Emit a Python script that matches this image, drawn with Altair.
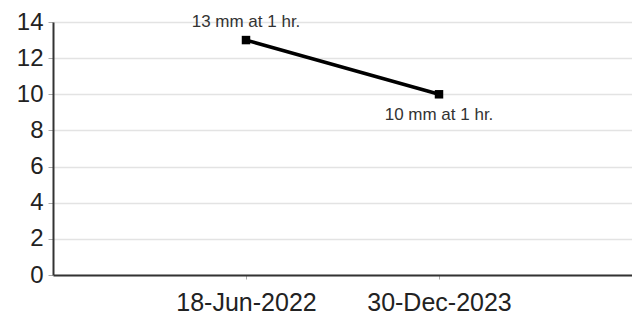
import altair as alt
import pandas as pd

dates = ["18-Jun-2022", "30-Dec-2023"]
values = [13, 10]
labels = ["13 mm at 1 hr.", "10 mm at 1 hr."]

df = pd.DataFrame({"date": dates, "value": values, "label": labels})

x = alt.X("date:N", sort=dates, title=None,
          scale=alt.Scale(type="point", padding=1),
          axis=alt.Axis(labelAngle=0, labelFontSize=25, labelColor="#222",
                        labelFont="Liberation Sans", labelPadding=11,
                        domainColor="#333", domainWidth=2, tickColor="#aaa",
                        tickSize=4, grid=False))
y = alt.Y("value:Q", title=None,
          scale=alt.Scale(domain=[0, 14], nice=False),
          axis=alt.Axis(values=list(range(0, 15, 2)), labelFontSize=24,
                        labelColor="#222", labelFont="Liberation Sans",
                        labelPadding=5, domainColor="#333", domainWidth=2,
                        tickColor="#aaa", tickSize=5, gridColor="#e3e3e3",
                        gridWidth=1.5))

base = alt.Chart(df).encode(x=x, y=y)

line = base.mark_line(color="black", strokeWidth=3.5)
pts = base.mark_point(shape="square", filled=True, color="black", size=72, opacity=1)

t1 = alt.Chart(df.iloc[[0]]).mark_text(fontSize=17, font="Liberation Sans",
                                       color="#333", dy=-18).encode(x=x, y=y, text="label:N")
t2 = alt.Chart(df.iloc[[1]]).mark_text(fontSize=17, font="Liberation Sans",
                                       color="#333", dy=21).encode(x=x, y=y, text="label:N")

chart = (line + pts + t1 + t2).properties(
    width=579, height=253,
    autosize=alt.AutoSizeParams(type="none"),
    padding={"left": 45, "top": 14, "right": 0, "bottom": 44},
).configure_view(stroke=None)

chart.save("out.html", embed_options={"renderer": "svg", "actions": False})
